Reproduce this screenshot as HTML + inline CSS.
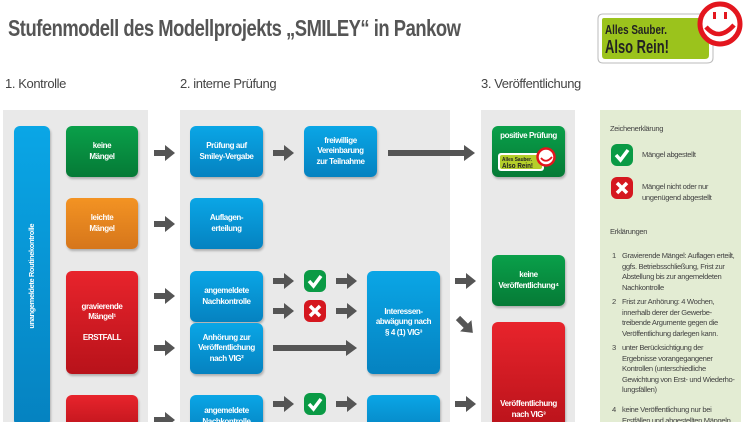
<!DOCTYPE html>
<html><head><meta charset="utf-8"><style>
*{margin:0;padding:0;box-sizing:border-box}
html,body{width:750px;height:422px;overflow:hidden}
body{background:#fff;position:relative;font-family:"Liberation Sans",sans-serif}
.a{position:absolute}
.panel{position:absolute;background:#e9e9e9;top:110px;height:312px}
.box{position:absolute;border-radius:6px;color:#fff;font-weight:bold;font-size:8px;line-height:10.5px;display:flex;align-items:center;justify-content:center;text-align:center;box-shadow:1px 2px 2px rgba(0,0,0,.25);letter-spacing:-0.4px;white-space:nowrap}
.b{background:linear-gradient(#0aa6e6,#0582c0)}
.g{background:linear-gradient(#0aa04a,#057a36)}
.o{background:linear-gradient(#f39323,#d6761b)}
.r{background:linear-gradient(#e8242c,#b8121a)}
.h{position:absolute;font-size:13px;color:#444;top:76px;letter-spacing:-0.4px}
.lg{position:absolute;font-size:7.6px;color:#444;line-height:10.5px;letter-spacing:-0.35px;white-space:nowrap}
</style></head><body>
<div class="a" style="left:8px;top:15px;font-size:23px;font-weight:bold;color:#555;letter-spacing:-0.6px;white-space:nowrap;transform:scaleX(0.8);transform-origin:0 0">Stufenmodell des Modellprojekts „SMILEY“ in Pankow</div>
<svg class="a" style="left:595px;top:0" width="155" height="66">
<path d="M8 14 H118 V58 Q118 63 112 63 H8 Q3 63 3 58 V19 Q3 14 8 14Z" fill="#fff" stroke="#bbb" stroke-width="1"/>
<path d="M9 18 H114 V55 Q114 59 110 59 H10 Q7 59 7 55 V20 Q7 18 9 18Z" fill="#9bc31c"/>
<text x="10" y="34" font-weight="bold" font-size="13" fill="#222" textLength="62" lengthAdjust="spacingAndGlyphs">Alles Sauber.</text>
<text x="10" y="53" font-weight="bold" font-size="18" fill="#222" textLength="64" lengthAdjust="spacingAndGlyphs">Also Rein!</text>
<circle cx="125" cy="24" r="20" fill="#fff" stroke="#e3161e" stroke-width="5"/>
<path d="M111 27 Q124 42 139 25" fill="none" stroke="#e3161e" stroke-width="4.5"/>
<rect x="118" y="12" width="3" height="7" fill="#e3161e"/><rect x="129" y="12" width="3" height="7" fill="#e3161e"/>
</svg>
<div class="h" style="left:5px">1. Kontrolle</div>
<div class="h" style="left:180px">2. interne Prüfung</div>
<div class="h" style="left:481px">3. Veröffentlichung</div>

<div class="panel" style="left:3px;width:145px"></div>
<div class="panel" style="left:180px;width:270px"></div>
<div class="panel" style="left:481px;width:94px"></div>
<div class="panel" style="left:600px;width:141px;background:#e3ecd3"></div>

<div class="box b" style="left:14px;top:126px;width:36px;height:300px"><span style="transform:rotate(-90deg);white-space:nowrap;display:block;font-size:7.5px">unangemeldete Routinekontrolle</span></div>
<div class="box g" style="left:66px;top:126px;width:72px;height:51px">keine<br>Mängel</div>
<div class="box o" style="left:66px;top:198px;width:72px;height:51px">leichte<br>Mängel</div>
<div class="box r" style="left:66px;top:271px;width:72px;height:103px">gravierende<br>Mängel¹<br><br>ERSTFALL</div>
<div class="box r" style="left:66px;top:395px;width:72px;height:40px"></div>

<div class="box b" style="left:190px;top:126px;width:73px;height:51px">Prüfung auf<br>Smiley-Vergabe</div>
<div class="box b" style="left:190px;top:198px;width:73px;height:51px">Auflagen-<br>erteilung</div>
<div class="box b" style="left:190px;top:271px;width:73px;height:51px">angemeldete<br>Nachkontrolle</div>
<div class="box b" style="left:190px;top:323px;width:73px;height:51px">Anhörung zur<br>Veröffentlichung<br>nach VIG²</div>
<div class="box b" style="left:190px;top:395px;width:73px;height:40px;align-items:flex-start;padding-top:11px">angemeldete<br>Nachkontrolle</div>
<div class="box b" style="left:304px;top:126px;width:73px;height:51px">freiwillige<br>Vereinbarung<br>zur Teilnahme</div>
<div class="box b" style="left:367px;top:271px;width:73px;height:103px">Interessen-<br>abwägung nach<br>§ 4 (1) VIG³</div>
<div class="box b" style="left:367px;top:395px;width:73px;height:40px"></div>

<div class="box g" style="left:492px;top:126px;width:73px;height:51px;align-items:flex-start;padding-top:5px">positive Prüfung</div>
<svg class="a" style="left:497px;top:146px" width="62" height="28">
<rect x="1" y="7" width="46" height="18" rx="3" fill="#fff"/><rect x="3" y="9" width="42" height="14" rx="2" fill="#b5cf2a"/>
<text x="5" y="15" font-size="5.5" font-weight="bold" fill="#222" textLength="30" lengthAdjust="spacingAndGlyphs">Alles Sauber.</text>
<text x="5" y="22" font-size="7" font-weight="bold" fill="#222" textLength="31" lengthAdjust="spacingAndGlyphs">Also Rein!</text>
<circle cx="49" cy="11" r="8.5" fill="#fff" stroke="#e3161e" stroke-width="2.5"/>
<path d="M44 12 Q49 18 55 11" fill="none" stroke="#e3161e" stroke-width="1.8"/></svg>
<div class="box g" style="left:492px;top:255px;width:73px;height:51px">keine<br>Veröffentlichung⁴</div>
<div class="box r" style="left:492px;top:322px;width:73px;height:110px;align-items:flex-end"><span style="position:relative;top:-12px">Veröffentlichung<br>nach VIG³</span></div>

<svg class="a" style="left:0;top:0" width="600" height="422">
<defs><g id="ar"><path d="M0 -3 H11 V-8 L21 0 L11 8 V3 H0Z" fill="#555"/></g></defs>
<use href="#ar" x="154" y="153"/><use href="#ar" x="154" y="224"/><use href="#ar" x="154" y="296"/><use href="#ar" x="154" y="348"/><use href="#ar" x="154" y="420"/>
<use href="#ar" x="273" y="153"/><use href="#ar" x="273" y="281"/><use href="#ar" x="273" y="311"/><use href="#ar" x="273" y="404"/>
<use href="#ar" x="336" y="281"/><use href="#ar" x="336" y="311"/><use href="#ar" x="336" y="404"/>
<path d="M273 345 H346 V340 L357 348 L346 356 V351 H273Z" fill="#555"/>
<path d="M388 150 H464 V145 L475 153 L464 161 V156 H388Z" fill="#555"/>
<use href="#ar" x="455" y="281"/><use href="#ar" x="455" y="404"/>
<use href="#ar" transform="translate(458 318) rotate(45)"/>
</svg>

<svg class="a" style="left:0;top:0" width="750" height="422">
<defs>
<g id="ck"><rect width="22" height="22" rx="6" fill="#0a9a45"/><path d="M5 11 L9.5 16 L17 6" fill="none" stroke="#fff" stroke-width="3.5"/></g>
<g id="cx"><rect width="22" height="22" rx="6" fill="#d5171f"/><path d="M6 6 L16 16 M16 6 L6 16" stroke="#fff" stroke-width="3.5"/></g>
</defs>
<use href="#ck" x="304" y="270"/><use href="#cx" x="304" y="300"/><use href="#ck" x="304" y="393"/>
<use href="#ck" x="611" y="144"/><use href="#cx" x="611" y="177"/>
</svg>

<div class="lg" style="left:610px;top:124px">Zeichenerklärung</div>
<div class="lg" style="left:642px;top:150px">Mängel abgestellt</div>
<div class="lg" style="left:642px;top:182px">Mängel nicht oder nur<br>ungenügend abgestellt</div>
<div class="lg" style="left:610px;top:227px">Erklärungen</div>
<div class="lg" style="left:612px;top:251px">1</div>
<div class="lg" style="left:622px;top:251px">Gravierende Mängel: Auflagen erteilt,<br>ggfs. Betriebsschließung, Frist zur<br>Abstellung bis zur angemeldeten<br>Nachkontrolle</div>
<div class="lg" style="left:612px;top:297px">2</div>
<div class="lg" style="left:622px;top:297px">Frist zur Anhörung: 4 Wochen,<br>innerhalb derer der Gewerbe-<br>treibende Argumente gegen die<br>Veröffentlichung darlegen kann.</div>
<div class="lg" style="left:612px;top:343px">3</div>
<div class="lg" style="left:622px;top:343px">unter Berücksichtigung der<br>Ergebnisse vorangegangener<br>Kontrollen (unterschiedliche<br>Gewichtung von Erst- und Wiederho-<br>lungsfällen)</div>
<div class="lg" style="left:612px;top:405px">4</div>
<div class="lg" style="left:622px;top:405px">keine Veröffentlichung nur bei<br>Erstfällen und abgestellten Mängeln</div>
</body></html>
